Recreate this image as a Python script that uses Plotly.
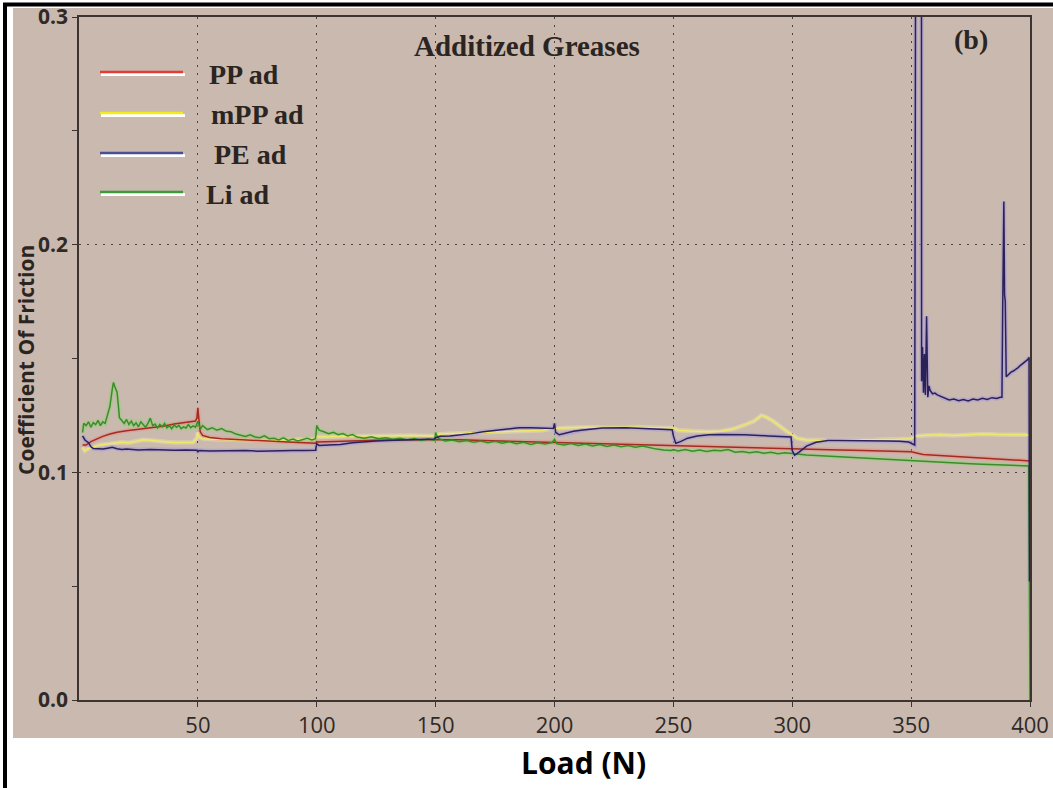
import plotly.graph_objects as go

# ---------------- data: coefficient of friction vs. load (N) ----------------
pp_load = [1.5, 3, 5, 7, 10, 13, 16, 20, 24, 28, 32, 36, 40, 44, 47, 49, 49.6, 50, 50.4, 51, 52, 55,
           60, 70, 80, 90, 99.5, 100, 100.5, 105, 115, 125, 135, 145, 150, 160, 170, 180, 190, 200,
           210, 220, 230, 240, 250, 260, 270, 280, 290, 300, 310, 320, 330, 340, 350, 355, 360, 365,
           370, 375, 380, 385, 390, 395, 399.5, 400]
pp_cof = [0.1120, 0.1120, 0.1135, 0.1145, 0.1158, 0.1168, 0.1176, 0.1183, 0.1188, 0.1192, 0.1197,
          0.1204, 0.1212, 0.1218, 0.1222, 0.1225, 0.1240, 0.1283, 0.1235, 0.1178, 0.1162, 0.1153,
          0.1148, 0.1142, 0.1137, 0.1132, 0.1128, 0.1135, 0.1133, 0.1135, 0.1138, 0.1141, 0.1143,
          0.1144, 0.1145, 0.1143, 0.1140, 0.1137, 0.1134, 0.1131, 0.1128, 0.1125, 0.1122, 0.1120,
          0.1117, 0.1113, 0.1112, 0.1110, 0.1106, 0.1102, 0.1100, 0.1098, 0.1096, 0.1094, 0.1090,
          0.1078, 0.1075, 0.1072, 0.1069, 0.1066, 0.1064, 0.1062, 0.1058, 0.1055, 0.1052, 0.1050]

mpp_load = [1.5, 2.5, 4, 6, 9, 12, 15, 18, 21, 24, 27, 30, 33, 36, 40, 44, 48, 49.6, 50, 50.5, 52,
            56, 60, 70, 80, 90, 99.5, 100, 101, 110, 120, 130, 140, 149.5, 150, 155, 165, 175, 185,
            195, 200, 205, 215, 225, 235, 245, 250, 252, 258, 265, 270, 275, 280, 284, 287, 289,
            292, 295, 298, 300, 302, 306, 315, 325, 335, 345, 350, 352, 356, 362, 368, 374, 380,
            386, 392, 398, 400]
mpp_cof = [0.1110, 0.1095, 0.1105, 0.1112, 0.1120, 0.1125, 0.1128, 0.1132, 0.1130, 0.1138, 0.1143,
           0.1141, 0.1136, 0.1134, 0.1131, 0.1133, 0.1132, 0.1150, 0.1175, 0.1155, 0.1148, 0.1145,
           0.1143, 0.1141, 0.1140, 0.1143, 0.1147, 0.1158, 0.1155, 0.1158, 0.1160, 0.1161, 0.1162,
           0.1160, 0.1166, 0.1170, 0.1173, 0.1176, 0.1179, 0.1185, 0.1192, 0.1196, 0.1198, 0.1200,
           0.1199, 0.1196, 0.1195, 0.1185, 0.1180, 0.1178, 0.1181, 0.1190, 0.1208, 0.1225, 0.1250,
           0.1243, 0.1225, 0.1200, 0.1178, 0.1165, 0.1150, 0.1142, 0.1140, 0.1142, 0.1143, 0.1145,
           0.1148, 0.1160, 0.1163, 0.1165, 0.1162, 0.1165, 0.1168, 0.1166, 0.1167, 0.1165, 0.1163]

pe_load = [1.5, 2.5, 4, 5, 6, 8, 10, 12, 14, 16, 18, 20, 25, 30, 35, 40, 45, 49.5, 50, 50.5, 55,
           60, 65, 70, 75, 80, 85, 90, 95, 99.5, 100, 101, 105, 110, 115, 120, 125, 130, 135, 140,
           145, 149.5, 150, 152, 156, 160, 165, 170, 175, 180, 185, 190, 195, 199.5, 200, 200.5,
           202, 205, 208, 212, 216, 220, 230, 240, 245, 249.5, 250, 251, 253, 256, 260, 265, 270,
           280, 290, 295, 299.5, 300, 301, 303, 306, 310, 315, 320, 330, 340, 345, 349, 351.5,
           352.2, 354.3, 354.4, 354.8, 355.2, 355.6, 356, 356.5, 357, 357.5, 358, 359, 360, 361,
           362, 363, 364, 366, 368, 370, 372, 374, 376, 378, 380, 382, 384, 386, 387.5, 388.2,
           388.5, 389, 389.3, 389.6, 390, 391, 392, 393, 394, 395, 396, 397, 398, 399, 399.6, 399.8]
pe_cof = [0.1160, 0.1142, 0.1130, 0.1112, 0.1105, 0.1104, 0.1102, 0.1106, 0.1110, 0.1104, 0.1100,
          0.1102, 0.1098, 0.1100, 0.1098, 0.1097, 0.1098, 0.1097, 0.1090, 0.1096, 0.1094, 0.1095,
          0.1094, 0.1096, 0.1093, 0.1095, 0.1094, 0.1096, 0.1096, 0.1097, 0.1125, 0.1118, 0.1120,
          0.1122, 0.1130, 0.1135, 0.1138, 0.1140, 0.1142, 0.1144, 0.1145, 0.1146, 0.1152, 0.1158,
          0.1160, 0.1163, 0.1170, 0.1178, 0.1184, 0.1192, 0.1196, 0.1196, 0.1195, 0.1193, 0.1215,
          0.1175, 0.1165, 0.1172, 0.1180, 0.1186, 0.1192, 0.1195, 0.1196, 0.1190, 0.1188, 0.1187,
          0.1160, 0.1128, 0.1135, 0.1150, 0.1160, 0.1165, 0.1166, 0.1165, 0.1160, 0.1157, 0.1155,
          0.1095, 0.1075, 0.1090, 0.1115, 0.1132, 0.1140, 0.1140, 0.1140, 0.1138, 0.1136, 0.1133,
          0.1120, 0.5000, 0.5000, 0.1400, 0.1550, 0.1350, 0.1520, 0.1340, 0.1685, 0.1330, 0.1380,
          0.1360, 0.1345, 0.1348, 0.1340, 0.1335, 0.1330, 0.1325, 0.1318, 0.1322, 0.1315, 0.1320,
          0.1314, 0.1322, 0.1318, 0.1325, 0.1320, 0.1328, 0.1324, 0.1330, 0.1330, 0.1700, 0.2190,
          0.1780, 0.1750, 0.1420, 0.1430, 0.1440, 0.1445, 0.1452, 0.1460, 0.1470, 0.1478, 0.1488,
          0.1495, 0.1505, 0.0520]

li_load = [1.5, 2, 3, 4, 5, 6, 7, 8, 9, 10, 11, 12, 13, 14, 14.5, 15, 16, 16.5, 17, 18, 19, 20,
           21, 22, 23, 24, 25, 26, 27, 28, 29, 30, 31, 32, 33, 34, 35, 36, 37, 38, 39, 40, 41, 42,
           43, 44, 45, 46, 47, 48, 49, 50, 51, 52, 54, 56, 58, 60, 62, 64, 66, 68, 70, 72, 74, 76,
           78, 80, 82, 84, 86, 88, 90, 92, 94, 96, 98, 99.5, 100, 101, 103, 105, 107, 109, 111,
           113, 115, 117, 120, 123, 126, 129, 132, 135, 138, 141, 144, 147, 149.5, 150, 151, 154,
           157, 160, 163, 166, 169, 172, 175, 178, 181, 184, 187, 190, 193, 196, 199, 200, 201,
           204, 207, 210, 213, 216, 219, 222, 225, 228, 231, 234, 237, 240, 243, 246, 249, 250,
           252, 255, 258, 261, 264, 267, 270, 273, 276, 279, 282, 285, 288, 291, 294, 297, 300,
           303, 306, 310, 315, 320, 325, 330, 335, 340, 345, 350, 355, 360, 365, 370, 375, 380,
           385, 390, 395, 399.5, 400]
li_cof = [0.1175, 0.1215, 0.1205, 0.1222, 0.1198, 0.1218, 0.1210, 0.1228, 0.1205, 0.1222, 0.1215,
          0.1258, 0.1290, 0.1365, 0.1395, 0.1378, 0.1352, 0.1300, 0.1240, 0.1228, 0.1215, 0.1232,
          0.1210, 0.1225, 0.1205, 0.1218, 0.1200, 0.1222, 0.1208, 0.1198, 0.1215, 0.1238, 0.1205,
          0.1212, 0.1195, 0.1210, 0.1200, 0.1215, 0.1196, 0.1205, 0.1192, 0.1208, 0.1198, 0.1206,
          0.1192, 0.1200, 0.1195, 0.1210, 0.1196, 0.1204, 0.1198, 0.1225, 0.1190, 0.1205, 0.1188,
          0.1196, 0.1185, 0.1192, 0.1180, 0.1178, 0.1168, 0.1162, 0.1158, 0.1165, 0.1155, 0.1152,
          0.1160, 0.1148, 0.1150, 0.1142, 0.1152, 0.1140, 0.1146, 0.1138, 0.1145, 0.1150, 0.1142,
          0.1148, 0.1205, 0.1185, 0.1178, 0.1170, 0.1176, 0.1165, 0.1170, 0.1160, 0.1166, 0.1155,
          0.1150, 0.1156, 0.1148, 0.1152, 0.1145, 0.1150, 0.1143, 0.1148, 0.1140, 0.1146, 0.1140,
          0.1175, 0.1150, 0.1138, 0.1142, 0.1134, 0.1140, 0.1132, 0.1138, 0.1130, 0.1136, 0.1128,
          0.1134, 0.1126, 0.1132, 0.1122, 0.1130, 0.1125, 0.1131, 0.1145, 0.1125, 0.1120, 0.1127,
          0.1118, 0.1124, 0.1116, 0.1122, 0.1114, 0.1120, 0.1112, 0.1118, 0.1110, 0.1116, 0.1108,
          0.1102, 0.1098, 0.1096, 0.1100, 0.1094, 0.1100, 0.1093, 0.1098, 0.1092, 0.1097, 0.1095,
          0.1100, 0.1088, 0.1092, 0.1086, 0.1090, 0.1084, 0.1088, 0.1082, 0.1086, 0.1082, 0.1080,
          0.1076, 0.1074, 0.1071, 0.1069, 0.1066, 0.1063, 0.1060, 0.1058, 0.1055, 0.1053, 0.1048,
          0.1046, 0.1043, 0.1040, 0.1038, 0.1036, 0.1034, 0.1032, 0.1030, 0.1028, 0.0000]

series_names = ["PP ad", "mPP ad", "PE ad", "Li ad"]
x_ticks = [50, 100, 150, 200, 250, 300, 350, 400]
y_ticks = [0.0, 0.1, 0.2, 0.3]
y_tick_text = ["0.0", "0.1", "0.2", "0.3"]

# ---------------- styling ----------------
W, H = 1053, 788
PL, PR, PT, PB = 79, 1030, 17, 700          # plot box in pixels
TAN = "#C9B9AF"
INK = "#2B2521"

def fx(p):  # pixel x -> paper x
    return (p - PL) / (PR - PL)

def fy(p):  # pixel y -> paper y
    return (PB - p) / (PB - PT)

core = {"PP ad": "#A32B22", "mPP ad": "#EFE868", "PE ad": "#2A2156", "Li ad": "#3C8C2C"}
glow = {"PP ad": "rgba(236,140,128,0.45)", "mPP ad": "rgba(248,244,170,0.35)",
        "PE ad": "rgba(172,156,214,0.65)", "Li ad": "rgba(140,212,108,0.45)"}
key_color = {"PP ad": "#E53B33", "mPP ad": "#F4EA1E", "PE ad": "#4A4F93", "Li ad": "#3B9A3A"}

data = {"PP ad": (pp_load, pp_cof), "mPP ad": (mpp_load, mpp_cof),
        "PE ad": (pe_load, pe_cof), "Li ad": (li_load, li_cof)}
draw_order = ["mPP ad", "PP ad", "Li ad", "PE ad"]

fig = go.Figure()
for name in draw_order:
    xs, ys = data[name]
    fig.add_trace(go.Scatter(x=xs, y=ys, mode="lines", showlegend=False, hoverinfo="skip",
                             line=dict(color=glow[name], width=4.5)))
for name in draw_order:
    xs, ys = data[name]
    fig.add_trace(go.Scatter(x=xs, y=ys, mode="lines", name=name, showlegend=False,
                             line=dict(color=core[name], width=1.5)))

shapes = [
    # tan panel behind the whole chart
    dict(type="rect", xref="paper", yref="paper", layer="below", line=dict(width=0),
         fillcolor=TAN, x0=fx(13), x1=fx(1053), y0=fy(738), y1=fy(8)),
    # black frame lines on the left and top edge
    dict(type="line", xref="paper", yref="paper", line=dict(color="black", width=4),
         x0=fx(5), x1=fx(5), y0=fy(788), y1=fy(3)),
    dict(type="line", xref="paper", yref="paper", line=dict(color="black", width=4),
         x0=fx(3), x1=fx(1053), y0=fy(4.5), y1=fy(4.5)),
]

annotations = []
key_rows = [72, 113, 153, 192]
key_text_x = [207, 209, 212, 204]
for name, row, tx in zip(series_names, key_rows, key_text_x):
    shapes.append(dict(type="line", xref="paper", yref="paper", line=dict(color="white", width=3),
                       x0=fx(101), x1=fx(185), y0=fy(row + 2.5), y1=fy(row + 2.5)))
    shapes.append(dict(type="line", xref="paper", yref="paper", line=dict(color=key_color[name], width=2.5),
                       x0=fx(100), x1=fx(183), y0=fy(row), y1=fy(row)))
    annotations.append(dict(xref="paper", yref="paper", x=fx(tx), y=fy(row + 2), xanchor="left",
                            yanchor="middle", showarrow=False, text=name,
                            font=dict(family="Liberation Serif", size=28, color=INK, weight="bold")))

annotations += [
    dict(xref="paper", yref="paper", x=fx(412), y=fy(46), xanchor="left", yanchor="middle",
         showarrow=False, text="Additized Greases",
         font=dict(family="Liberation Serif", size=29, color=INK, weight="bold")),
    dict(xref="paper", yref="paper", x=fx(971), y=fy(40), xanchor="center", yanchor="middle",
         showarrow=False, text="(b)",
         font=dict(family="Liberation Serif", size=28, color=INK, weight="bold")),
    dict(xref="paper", yref="paper", x=fx(26), y=fy(360), xanchor="center", yanchor="middle",
         showarrow=False, text="Coefficient Of Friction", textangle=-90,
         font=dict(family="Open Sans", size=21, color=INK, weight="bold")),
    dict(xref="paper", yref="paper", x=fx(583), y=fy(762), xanchor="center", yanchor="middle",
         showarrow=False, text="Load (N)",
         font=dict(family="Open Sans", size=30, color="black", weight="bold")),
]

fig.update_layout(
    width=W, height=H,
    margin=dict(l=PL, r=W - PR, t=PT, b=H - PB, pad=0, autoexpand=False),
    paper_bgcolor="white", plot_bgcolor=TAN,
    shapes=shapes, annotations=annotations,
    showlegend=False,
)
fig.update_xaxes(
    range=[0, 400], tickvals=x_ticks, ticks="outside", ticklen=5, tickcolor="#3d3330",
    showline=True, linecolor="#3d3330", linewidth=1.5, mirror=True, automargin=False,
    showgrid=True, gridcolor="#4a4040", gridwidth=1.2, griddash="2px,6px", zeroline=False,
    tickfont=dict(family="Open Sans", size=22, color="#2f2a27"),
)
fig.update_yaxes(
    range=[0, 0.3], tickvals=y_ticks, ticktext=y_tick_text, ticks="outside", ticklen=5,
    tickcolor="#3d3330", showline=True, linecolor="#3d3330", linewidth=1.5, mirror=True,
    automargin=False,
    showgrid=True, gridcolor="#4a4040", gridwidth=1.2, griddash="2px,6px", zeroline=False,
    minor=dict(dtick=0.05, tick0=0, ticks="outside", ticklen=5, tickcolor="#3d3330", showgrid=False),
    tickfont=dict(family="Open Sans", size=21, color="#2f2a27", weight="bold"),
)

fig.write_html("out.html")
